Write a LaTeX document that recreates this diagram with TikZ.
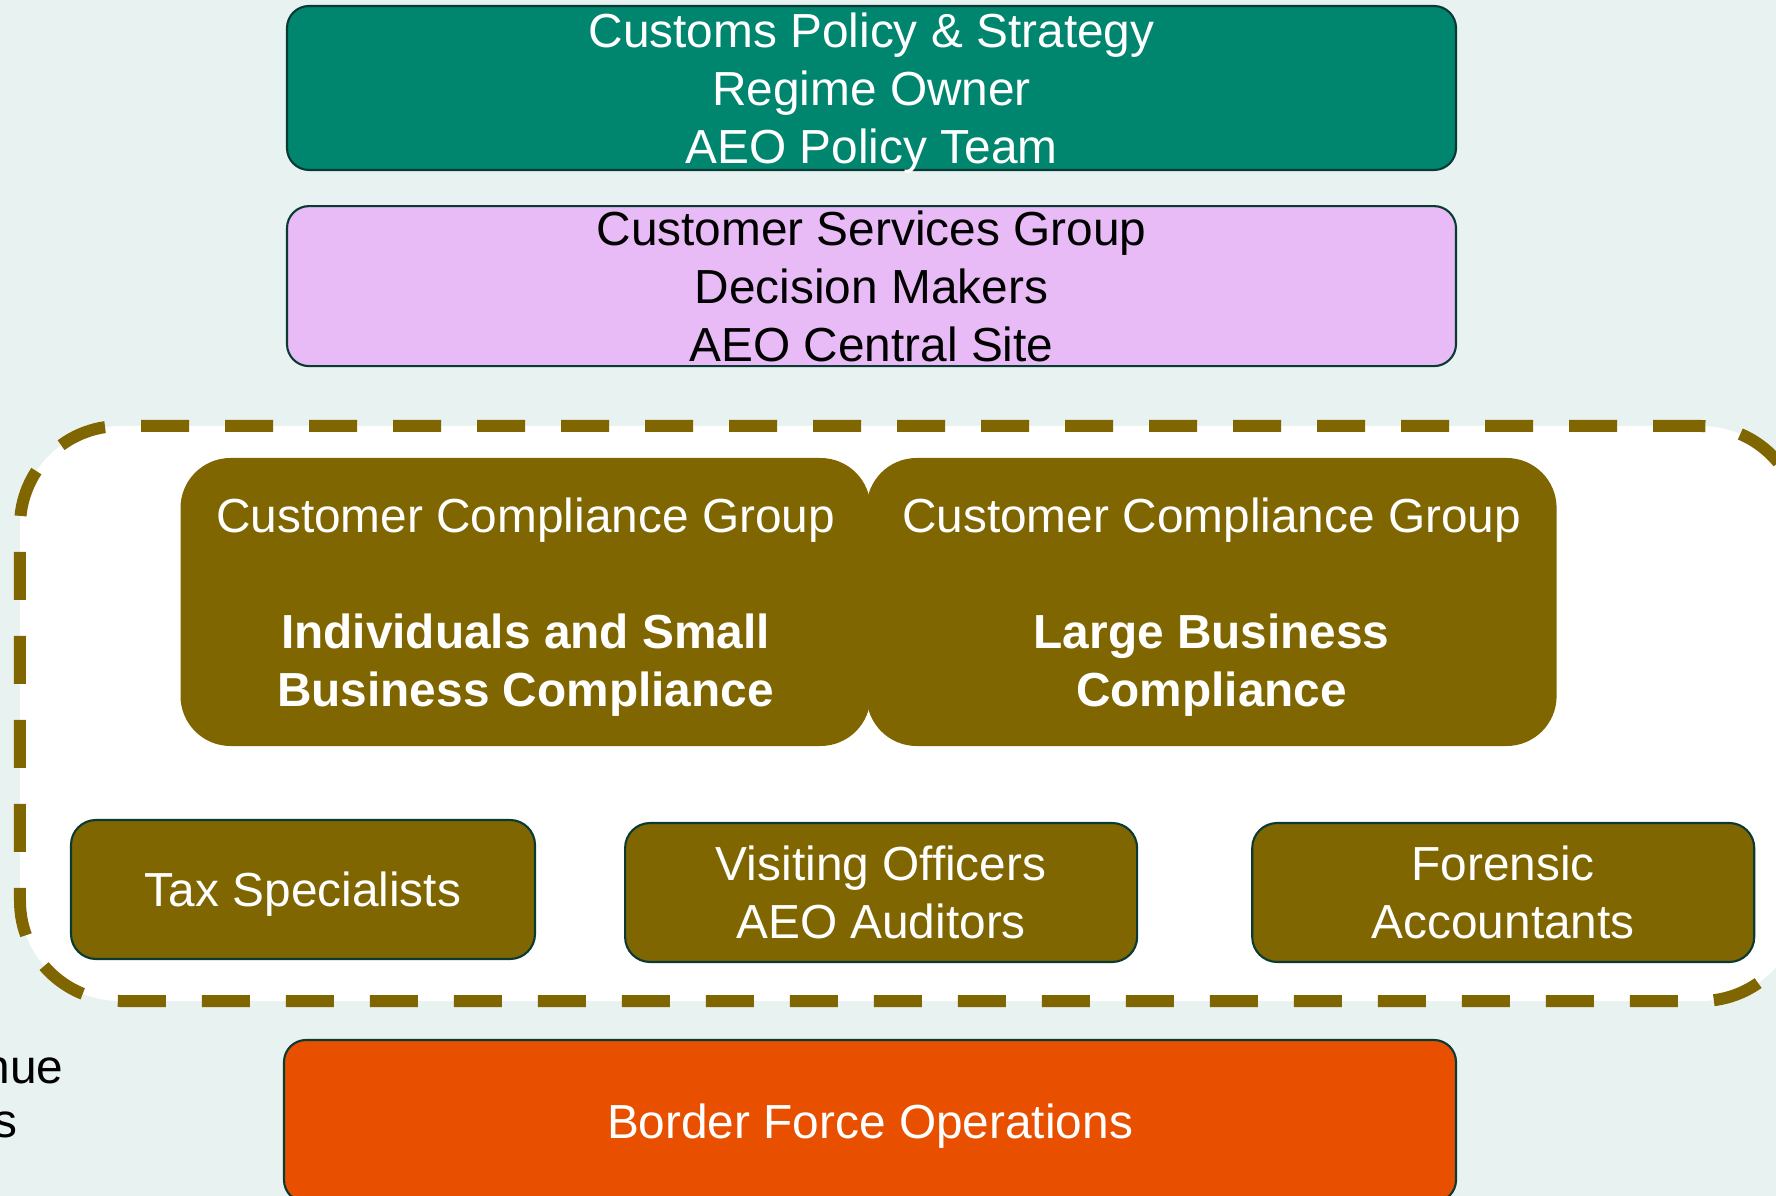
\documentclass[tikz,border=0pt]{standalone}
\usepackage{fontspec}
\setmainfont{Liberation Sans}
\usetikzlibrary{positioning}
\definecolor{tback}{HTML}{E8F2F0}
\definecolor{tgreen}{HTML}{00856F}
\definecolor{tpink}{HTML}{E8BAF6}
\definecolor{tolive}{HTML}{806600}
\definecolor{torange}{HTML}{E85000}
\definecolor{tedge}{HTML}{0A3A34}

\begin{document}
\begin{tikzpicture}[
    box/.style={draw=tedge, line width=0.6pt, rectangle, rounded corners=0.22cm, text depth=0pt,
                align=center, inner sep=0pt, font=\fontsize{13.6}{16.5}\selectfont},
    policy/.style={box, fill=tgreen, text=white, minimum width=11.69cm, minimum height=1.64cm},
    services/.style={box, fill=tpink, text=black, minimum width=11.69cm, minimum height=1.60cm},
    compliance/.style={box, draw=none, fill=tolive, text=white, rounded corners=0.5cm,
                       minimum width=6.9cm, minimum height=2.88cm},
    specialist/.style={box, fill=tolive, text=white, rounded corners=0.25cm, minimum height=1.39cm},
    operations/.style={box, fill=torange, text=white, minimum width=11.72cm, minimum height=1.62cm},
    team/.style={draw=tolive, fill=white, rectangle, rounded corners=1cm, line width=0.12cm,
                 dash pattern=on 0.48cm off 0.36cm, minimum width=17.81cm, minimum height=5.75cm}
  ]
  \useasboundingbox (0,0) rectangle (17.76,-11.96);
  \clip (0,0) rectangle (17.76,-11.96);
  \fill[tback] (0,0) rectangle (17.76,-11.96);

  \node[policy] (policy) at (8.715,-0.88) {Customs Policy \& Strategy \\ Regime Owner \\ AEO Policy Team};
  \node[services] (services) [below=0.34cm of policy] {Customer Services Group \\ Decision Makers \\ AEO Central Site};

  \node[team] (team) at (9.105,-7.135) {};
  \node[compliance] (isbc) at (5.255,-6.02) {Customer Compliance Group \\[16.5pt]
    \textbf{Individuals and Small} \\ \textbf{Business Compliance}};
  \node[compliance] (lbc) [right=-0.06cm of isbc] {Customer Compliance Group \\[16.5pt]
    \textbf{Large Business} \\ \textbf{Compliance}};

  \node[specialist, minimum width=4.64cm] (tax) at (3.03,-8.895) {Tax Specialists};
  \node[specialist, minimum width=5.12cm] (visiting) [right=0.88cm of tax, yshift=-0.03cm] {Visiting Officers \\ AEO Auditors};
  \node[specialist, minimum width=5.02cm] (forensic) [right=1.13cm of visiting] {Forensic \\ Accountants};

  \node[operations] (border) at (8.70,-11.21) {Border Force Operations};

  \node[anchor=base east, inner sep=0pt, font=\fontsize{13.6}{16.5}\selectfont] (revenue) at (0.64,-10.83) {nue};
  \node[anchor=base east, inner sep=0pt, font=\fontsize{13.6}{16.5}\selectfont] (revenues) at (0.18,-11.37) {s};
\end{tikzpicture}
\end{document}
